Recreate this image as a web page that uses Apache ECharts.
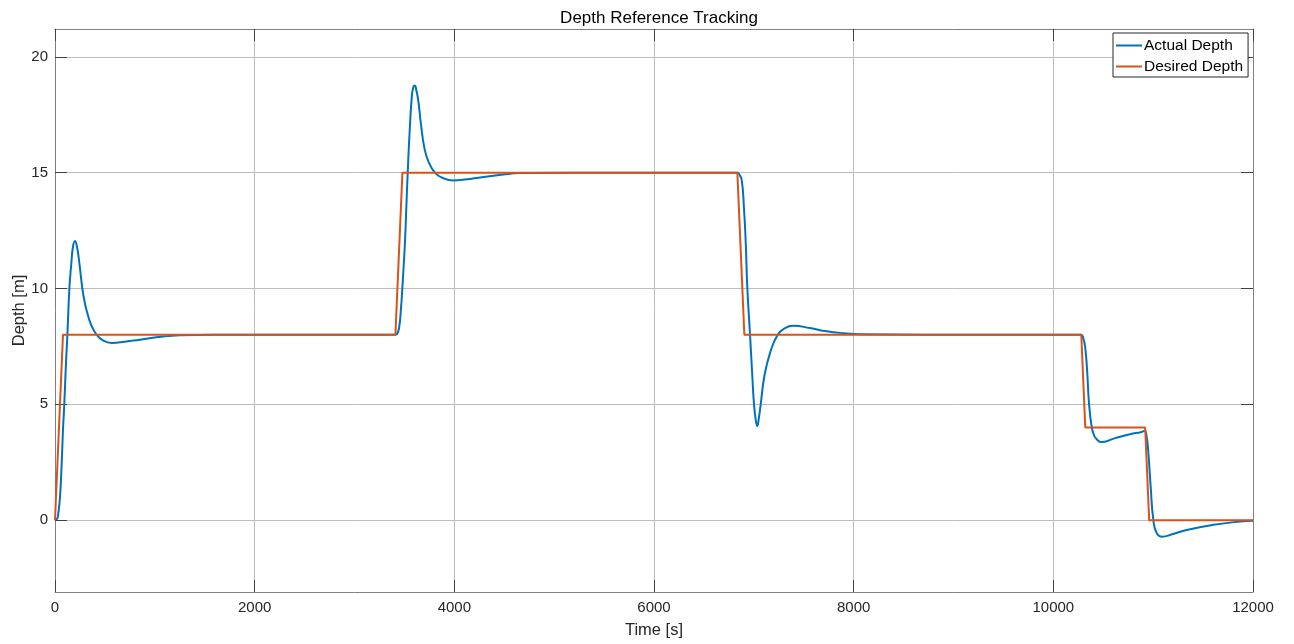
<!DOCTYPE html>
<html>
<head>
<meta charset="utf-8">
<title>Depth Reference Tracking</title>
<script src="https://cdn.jsdelivr.net/npm/echarts@6/dist/echarts.min.js"></script>
<style>
  html, body { margin: 0; padding: 0; background: #fff; }
  #chart { width: 1294px; height: 644px; }
</style>
</head>
<body>
<div id="chart"></div>
<script>
// values
var actualTime = [0, 23, 33, 50, 67, 80, 93, 110, 124, 144, 164, 180, 200, 220, 244, 274, 300, 324, 360, 417, 480, 568, 700, 851, 1085, 1252, 1600,
  3406, 3423, 3446, 3466, 3479, 3506, 3519, 3533, 3556, 3576, 3590, 3603, 3620, 3640, 3666, 3700, 3740, 3806, 3880, 3990, 4100, 4224, 4490, 4657, 5200,
  6835, 6850, 6878, 6902, 6919, 6935, 6962, 6985, 7002, 7020, 7035, 7050, 7069, 7105, 7162, 7239, 7312, 7396, 7563, 7730, 7930, 8064, 8700,
  10278, 10300, 10318, 10338, 10358, 10385, 10405, 10425, 10478, 10618, 10768, 10885, 10915, 10935, 10952, 10975, 11002, 11035, 11085, 11200, 11335, 11603, 11870, 12000];
var actualDepth = [0, 0.08, 0.3, 1.0, 2.46, 3.9, 5.0, 6.78, 8.0, 10.0, 11.1, 11.8, 12.05, 11.8, 11.1, 10.0, 9.35, 8.94, 8.45, 8.0, 7.76, 7.65, 7.7, 7.79, 7.93, 7.98, 8.0,
  8.0, 8.02, 8.29, 9.16, 10.0, 12.04, 13.48, 15.0, 17.08, 18.37, 18.7, 18.76, 18.55, 18.08, 17.08, 16.07, 15.49, 15.0, 14.78, 14.66, 14.7, 14.77, 14.92, 14.98, 15.0,
  15.0, 14.95, 14.7, 13.4, 11.97, 10.0, 8.0, 6.2, 5.0, 4.3, 4.07, 4.4, 5.0, 6.2, 7.21, 8.0, 8.29, 8.39, 8.29, 8.15, 8.06, 8.02, 8.0,
  8.0, 7.85, 7.5, 6.49, 5.0, 4.0, 3.7, 3.54, 3.37, 3.54, 3.71, 3.81, 3.86, 3.6, 2.89, 1.45, 0.0, -0.56, -0.71, -0.6, -0.42, -0.2, -0.06, -0.03];

var desiredTime = [0, 80, 3410, 3480, 6835, 6905, 10280, 10320, 10920, 10960, 12000];
var desiredDepth = [0, 8, 8, 15, 15, 8, 8, 4, 4, 0, 0];

var yTicks = [0, 5, 10, 15, 20];

var font = 'Liberation Sans, Arial, sans-serif';

function pairs(xs, ys) {
  return xs.map(function (x, i) { return [x, ys[i]]; });
}

var myChart = echarts.init(document.getElementById('chart'));

var boxLine = { show: true, onZero: false, lineStyle: { color: '#808080', width: 1 } };
var inTick = { show: true, inside: true, length: 12, lineStyle: { color: '#404040', width: 1 } };

var option = {
  animation: false,
  backgroundColor: '#fff',
  title: {
    text: 'Depth Reference Tracking',
    left: 654,
    textAlign: 'center',
    top: 5,
    textStyle: { fontFamily: font, fontSize: 17, fontWeight: 'normal', color: '#000' }
  },
  legend: {
    left: 1113,
    top: 33,
    orient: 'vertical',
    icon: 'rect',
    itemWidth: 26,
    itemHeight: 2,
    itemGap: 4,
    padding: [4, 5, 2, 3],
    backgroundColor: '#fff',
    borderColor: '#262626',
    borderWidth: 1,
    borderRadius: 0,
    textStyle: { fontFamily: font, fontSize: 15.5, lineHeight: 17, color: '#000', padding: [0, 0, 0, -3] },
    data: ['Actual Depth', 'Desired Depth']
  },
  grid: { left: 55, right: 41, top: 29, bottom: 52, containLabel: false, outerBoundsMode: 'none' },
  xAxis: [
    {
      type: 'value',
      min: 0,
      max: 12000,
      interval: 2000,
      name: 'Time [s]',
      nameLocation: 'middle',
      nameGap: 30,
      nameMoveOverlap: false,
      nameTextStyle: { fontFamily: font, fontSize: 16.5, color: '#262626' },
      axisLine: boxLine,
      axisTick: inTick,
      axisLabel: {
        fontFamily: font, fontSize: 15, color: '#262626', margin: 8,
        formatter: function (v) { return String(v); }
      },
      splitLine: { show: true, lineStyle: { color: '#bdbdbd', width: 1 } }
    },
    {
      type: 'value',
      position: 'top',
      min: 0,
      max: 12000,
      interval: 2000,
      axisLine: boxLine,
      axisTick: inTick,
      axisLabel: { show: false },
      splitLine: { show: false }
    }
  ],
  yAxis: [
    {
      type: 'value',
      min: -3.1,
      max: 21.2,
      name: 'Depth [m]',
      nameLocation: 'middle',
      nameGap: 27,
      nameMoveOverlap: false,
      nameTextStyle: { fontFamily: font, fontSize: 16.5, color: '#262626' },
      axisLine: boxLine,
      axisTick: Object.assign({ customValues: yTicks }, inTick),
      axisLabel: { customValues: yTicks, fontFamily: font, fontSize: 15, color: '#262626', margin: 7 },
      splitLine: { show: true, lineStyle: { color: '#bdbdbd', width: 1 } }
    },
    {
      type: 'value',
      position: 'right',
      min: -3.1,
      max: 21.2,
      axisLine: boxLine,
      axisTick: Object.assign({ customValues: yTicks }, inTick),
      axisLabel: { show: false },
      splitLine: { show: false }
    }
  ],
  series: [
    {
      name: 'Actual Depth',
      type: 'line',
      data: pairs(actualTime, actualDepth),
      showSymbol: false,
      smooth: 0.5,
      color: '#0072BD',
      lineStyle: { width: 2, color: '#0072BD' }
    },
    {
      name: 'Desired Depth',
      type: 'line',
      data: pairs(desiredTime, desiredDepth),
      showSymbol: false,
      color: '#D95319',
      lineStyle: { width: 2, color: '#D95319' }
    }
  ]
};

option && myChart.setOption(option);
</script>
</body>
</html>
